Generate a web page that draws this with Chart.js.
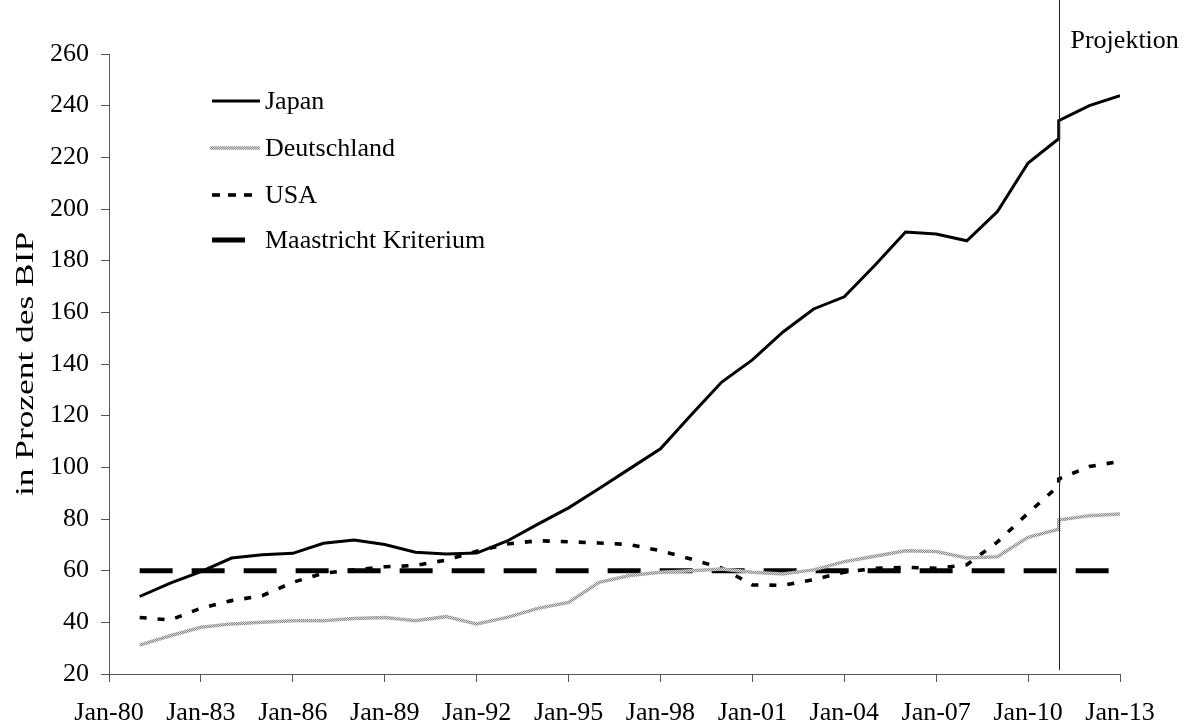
<!DOCTYPE html>
<html>
<head>
<meta charset="utf-8">
<script src="https://cdn.jsdelivr.net/npm/chart.js@4/dist/chart.umd.min.js"></script>
<style>
  html, body { margin: 0; padding: 0; background: #fff; }
  #wrap { width: 1186px; height: 726px; }
</style>
</head>
<body>
<div id="wrap"><canvas id="c" width="1186" height="726"></canvas></div>
<script>
// ---- data ----
const years = [1981,1982,1983,1984,1985,1986,1987,1988,1989,1990,1991,1992,1993,1994,1995,1996,1997,1998,1999,2000,2001,2002,2003,2004,2005,2006,2007,2008,2009,2010,2011,2011,2012,2013];
const japan = [50.0,55.2,59.6,64.9,66.2,66.7,70.6,71.9,70.1,67.1,66.5,66.8,71.5,78.0,84.3,91.8,99.5,107.2,120.3,133.0,141.6,152.4,161.3,166.0,178.2,191.1,190.3,187.7,199.0,217.8,227.2,234.2,240.0,243.9];
const deutschland = [31.2,34.8,38.1,39.4,40.0,40.6,40.6,41.5,41.9,40.6,42.2,39.4,41.9,45.4,47.7,55.5,58.1,59.4,60.0,60.6,59.4,58.7,60.3,63.5,65.6,67.7,67.4,64.9,65.4,72.9,76.1,79.6,81.3,81.9];
const usa = [41.9,40.9,45.5,48.4,50.3,55.5,59.0,60.3,61.5,62.0,64.1,67.5,70.3,71.6,71.2,70.7,70.1,67.7,64.5,61.0,54.5,54.3,56.5,59.4,60.9,61.3,60.9,62.3,71.1,82.3,92.9,95.5,100.3,102.3];
const maastrichtYears = [1981, 2013];
const maastricht = [60, 60];
const seriesNames = ['Japan', 'Deutschland', 'USA', 'Maastricht Kriterium'];
const xTickYears = [1980,1983,1986,1989,1992,1995,1998,2001,2004,2007,2010,2013];
const yTicks = [20,40,60,80,100,120,140,160,180,200,220,240,260];
const projectionYear = 2011;
const projectionLabel = 'Projektion';
const yTitle = 'in Prozent des BIP';

// ---- styles ----
const FONT = "'Liberation Serif', 'Times New Roman', serif";
Chart.defaults.font.family = FONT;
Chart.defaults.font.size = 26;
Chart.defaults.color = '#000';

function makeGrayPattern() {
  const pc = document.createElement('canvas');
  pc.width = 2; pc.height = 2;
  const p = pc.getContext('2d');
  p.fillStyle = '#d6d6d6'; p.fillRect(0, 0, 2, 2);
  p.fillStyle = '#8c8c8c'; p.fillRect(0, 0, 1, 1); p.fillRect(1, 1, 1, 1);
  return p.createPattern(pc, 'repeat');
}
const ctx0 = document.getElementById('c').getContext('2d');
const grayPattern = makeGrayPattern();

const styles = [
  { color: '#000', width: 3, dash: [] },
  { color: grayPattern, width: 3.5, dash: [] },
  { color: '#000', width: 3.6, dash: [7, 11] },
  { color: '#000', width: 5, dash: [33, 19] }
];
const legendDash = [[], [], [8, 8], []];

function pts(xs, ys) { return xs.map((x, i) => ({ x: x, y: ys[i] })); }

const datasets = [
  { label: seriesNames[0], data: pts(years, japan) },
  { label: seriesNames[1], data: pts(years, deutschland) },
  { label: seriesNames[2], data: pts(years, usa) },
  { label: seriesNames[3], data: pts(maastrichtYears, maastricht) }
].map((d, i) => Object.assign(d, {
  borderColor: styles[i].color,
  backgroundColor: 'transparent',
  borderWidth: styles[i].width,
  borderDash: styles[i].dash,
  borderCapStyle: 'butt',
  borderJoinStyle: 'miter',
  pointRadius: 0,
  pointHoverRadius: 0,
  tension: 0,
  fill: false
}));

const overlay = {
  id: 'overlay',
  afterDatasetsDraw(chart) {
    const c = chart.ctx;
    const ca = chart.chartArea;
    const xs = chart.scales.x;
    // projection line
    const px = Math.round(xs.getPixelForValue(projectionYear)) + 0.5;
    c.save();
    c.strokeStyle = '#222';
    c.lineWidth = 1;
    c.beginPath();
    c.moveTo(px, 0);
    c.lineTo(px, ca.bottom - 4);
    c.stroke();
    c.fillStyle = '#000';
    c.font = '26px ' + FONT;
    c.textAlign = 'left';
    c.textBaseline = 'alphabetic';
    c.fillText(projectionLabel, px + 11, 48);
    c.restore();

    // legend
    const lx = ca.left + 103;
    const rows = [101, 148, 195, 240];
    c.save();
    chart.data.datasets.forEach((ds, i) => {
      const y = rows[i];
      c.strokeStyle = ds.borderColor;
      c.lineWidth = ds.borderWidth;
      c.setLineDash(legendDash[i]);
      c.lineCap = 'butt';
      c.beginPath();
      const x1 = i === 3 ? lx + 33 : (i === 2 ? lx + 41 : lx + 48);
      c.moveTo(i === 1 ? lx - 2 : lx, y);
      c.lineTo(x1, y);
      c.stroke();
      c.setLineDash([]);
      c.fillStyle = '#000';
      c.font = '26px ' + FONT;
      c.textAlign = 'left';
      c.textBaseline = 'middle';
      c.fillText(ds.label, lx + 53, y + 1);
    });
    c.restore();

    // y axis title (stretched along its direction)
    c.save();
    c.font = '26px ' + FONT;
    c.fillStyle = '#000';
    c.textAlign = 'center';
    c.textBaseline = 'alphabetic';
    c.translate(33, (ca.top + ca.bottom) / 2);
    c.rotate(-Math.PI / 2);
    c.scale(1.36, 1);
    c.fillText(yTitle, 0, 0);
    c.restore();
  }
};

new Chart(ctx0, {
  type: 'line',
  data: { datasets: datasets },
  options: {
    responsive: false,
    animation: false,
    events: [],
    layout: { padding: { top: 54, right: 66, left: 0, bottom: 0 } },
    plugins: { legend: { display: false }, tooltip: { enabled: false } },
    scales: {
      x: {
        type: 'linear',
        min: xTickYears[0],
        max: xTickYears[xTickYears.length - 1],
        afterBuildTicks: (s) => { s.ticks = xTickYears.map(v => ({ value: v })); },
        afterFit: (s) => { s.height = 52; },
        ticks: {
          autoSkip: false, maxRotation: 0, minRotation: 0, padding: 16,
          callback: (v) => 'Jan-' + String(v).slice(2)
        },
        grid: { drawOnChartArea: false, drawTicks: true, tickLength: 8, color: '#555', lineWidth: 1 },
        border: { display: true, color: '#555', width: 1 }
      },
      y: {
        min: yTicks[0],
        max: yTicks[yTicks.length - 1],
        afterBuildTicks: (s) => { s.ticks = yTicks.map(v => ({ value: v })); },
        afterFit: (s) => { s.width = 109; },
        ticks: { padding: 12, autoSkip: false },
        grid: { drawOnChartArea: false, drawTicks: true, tickLength: 8, color: '#555', lineWidth: 1 },
        border: { display: true, color: '#555', width: 1 }
      }
    }
  },
  plugins: [overlay]
});
</script>
</body>
</html>
